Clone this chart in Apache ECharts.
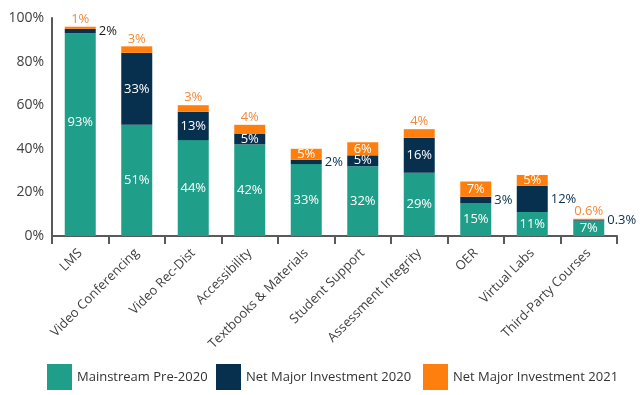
<!DOCTYPE html>
<html>
<head>
<meta charset="utf-8">
<script src="https://cdn.jsdelivr.net/npm/echarts@6/dist/echarts.min.js"></script>
<style>html,body{margin:0;padding:0;background:#fff;}#c{width:644px;height:395px;}</style>
</head>
<body>
<div id="c"></div>
<script>
const categories = ["LMS","Video Conferencing","Video Rec-Dist","Accessibility","Textbooks & Materials","Student Support","Assessment Integrity","OER","Virtual Labs","Third-Party Courses"];
const seriesNames = ["Mainstream Pre-2020","Net Major Investment 2020","Net Major Investment 2021"];
const mainstreamPre2020 = [93,51,44,42,33,32,29,15,11,7];
const netMajor2020 = [2,33,13,5,2,5,16,3,12,0.3];
const netMajor2021 = [1,3,3,4,5,6,4,7,5,0.6];
const yTicks = [0,20,40,60,80,100];

const GREEN = "#1f9e89", NAVY = "#07304f", ORANGE = "#ff7f0e", ORANGE_TXT = "#f3893a";
const FONT = "Open Sans";

// label placement per bar (index-based), kept out of data arrays
const navyOutside = [0,4,7,8,9];
const orangeOutside = [0,1,2,3,6,9];

function pct(p){ return p.value + "%"; }

const greenData = mainstreamPre2020.map((v,i)=>({
  value:v,
  label: i===0 ? {offset:[0,-12]} : {}
}));
const navyData = netMajor2020.map((v,i)=>({
  value:v,
  label: navyOutside.includes(i)
    ? {position:"right", distance:3, color: i===0 ? "#1a1a1a" : NAVY}
    : {position:"inside", color:"#fff"}
}));
const orangeData = netMajor2021.map((v,i)=>({
  value:v,
  label: orangeOutside.includes(i)
    ? {position:"top", distance:1, color:ORANGE_TXT}
    : {position:"inside", color:"#fff"}
}));

const baseLabel = {show:true, formatter:pct, fontFamily:FONT, fontSize:13};
const legendText = {fontFamily:FONT, fontSize:13, color:"#333"};

const chart = echarts.init(document.getElementById("c"), null, {renderer:"canvas"});
chart.setOption({
  animation:false,
  backgroundColor:"#fff",
  grid:{left:52, right:27, top:18, bottom:159, containLabel:false},
  legend:[
    {data:[seriesNames[0]], left:42, top:359, itemWidth:25, itemHeight:26, itemGap:5,
     textStyle:legendText, icon:"rect", selectedMode:false},
    {data:[seriesNames[1]], left:211, top:359, itemWidth:25, itemHeight:26, itemGap:5,
     textStyle:legendText, icon:"rect", selectedMode:false},
    {data:[seriesNames[2]], left:418, top:359, itemWidth:25, itemHeight:26, itemGap:5,
     textStyle:legendText, icon:"rect", selectedMode:false}
  ],
  xAxis:{
    type:"category",
    data:categories,
    axisLine:{lineStyle:{color:"#595959", width:2}},
    axisTick:{show:true, alignWithLabel:false, length:8, lineStyle:{color:"#595959", width:2}},
    axisLabel:{rotate:45, fontFamily:FONT, fontSize:13, color:"#404040", margin:15, interval:0}
  },
  yAxis:{
    type:"value",
    min:yTicks[0], max:yTicks[yTicks.length-1], interval:20,
    axisLine:{show:true, lineStyle:{color:"#595959", width:2}},
    axisTick:{show:false},
    splitLine:{show:false},
    axisLabel:{formatter:"{value}%", fontFamily:FONT, fontSize:14, color:"#404040", margin:8}
  },
  series:[
    {name:seriesNames[0], type:"bar", stack:"t", barWidth:31, data:greenData,
     itemStyle:{color:GREEN}, label:Object.assign({}, baseLabel, {position:"inside", color:"#fff"})},
    {name:seriesNames[1], type:"bar", stack:"t", barWidth:31, data:navyData,
     itemStyle:{color:NAVY}, label:Object.assign({}, baseLabel)},
    {name:seriesNames[2], type:"bar", stack:"t", barWidth:31, data:orangeData,
     itemStyle:{color:ORANGE}, label:Object.assign({}, baseLabel)}
  ]
});
</script>
</body>
</html>
